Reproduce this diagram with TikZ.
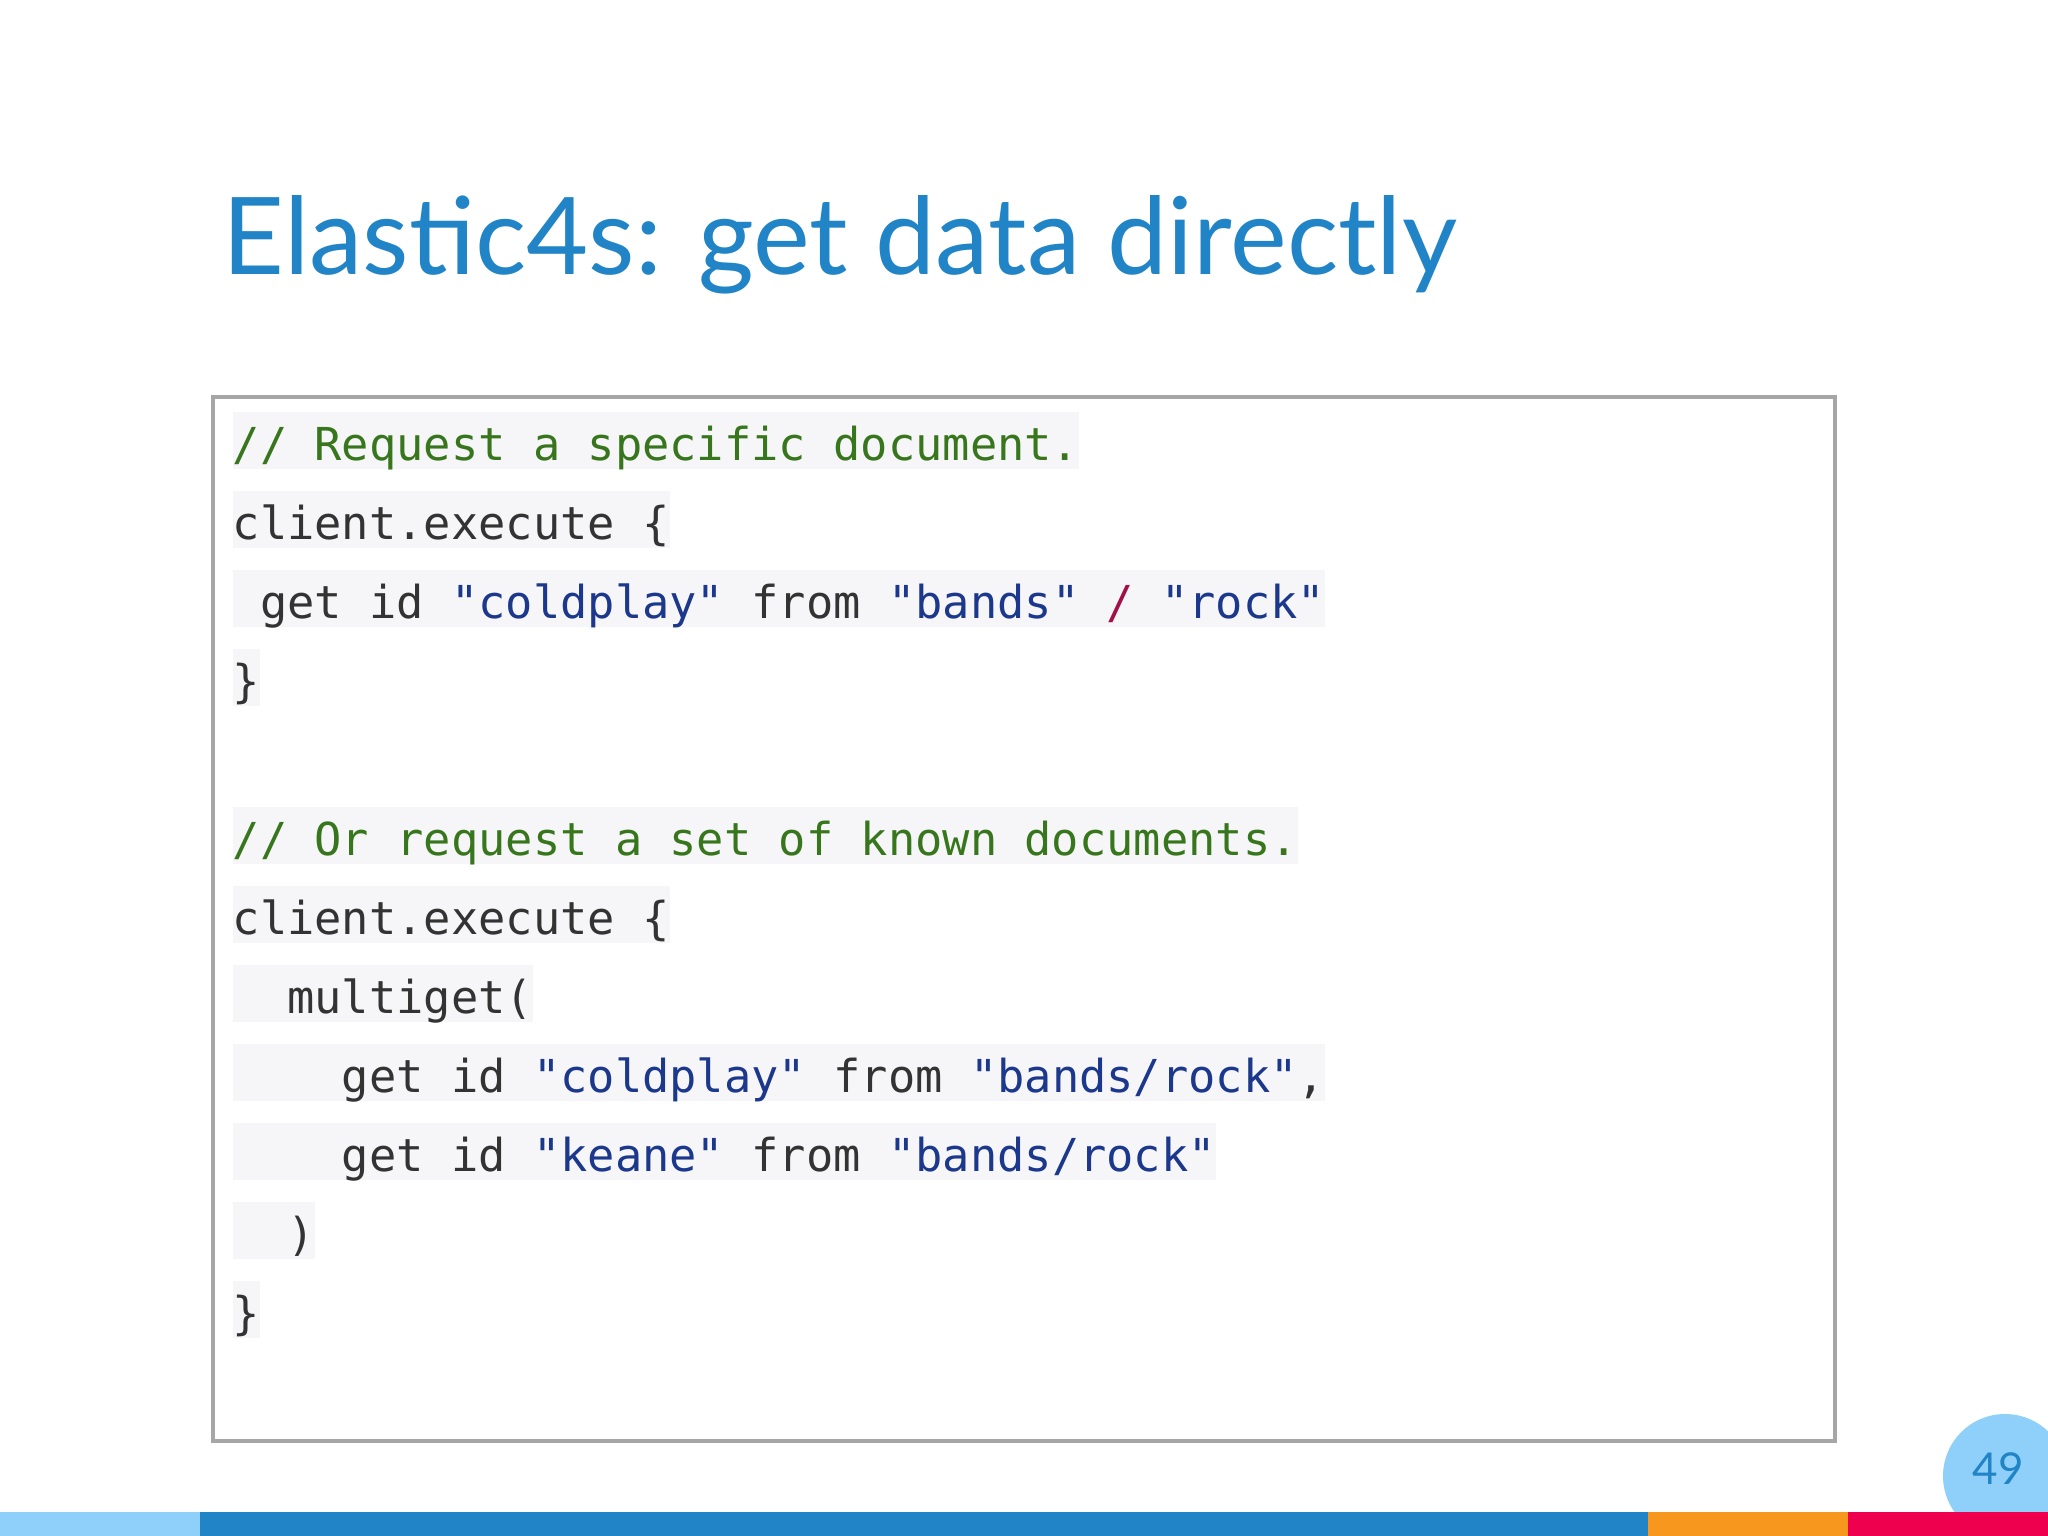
\documentclass[tikz,border=0pt]{standalone}
\usepackage{fontspec}
\setmainfont{Lato}
\setmonofont{DejaVu Sans Mono}
\usetikzlibrary{positioning}
\definecolor{titleblue}{RGB}{33, 132, 198}
\definecolor{lightblue}{RGB}{142, 208, 250}
\definecolor{barorange}{RGB}{247, 151, 29}
\definecolor{barred}{RGB}{238, 0, 78}
\definecolor{codebg}{RGB}{246, 246, 248}
\definecolor{codetext}{RGB}{51, 51, 51}
\definecolor{comment}{RGB}{56, 118, 29}
\definecolor{string}{RGB}{28, 56, 140}
\definecolor{operator}{RGB}{160, 17, 74}
\newcommand{\cstr}[1]{{\color{string}#1}}
\newcommand{\ind}[1]{\hphantom{#1}}

\begin{document}
\begin{tikzpicture}[
    x=0.01cm, y=-0.01cm,
    % 代码行样式
    codeline/.style={
        anchor=base west, fill=codebg, inner xsep=0pt, inner ysep=0pt,
        text height=13.6pt, text depth=2.6pt,
        font=\fontsize{12.9}{14}\ttfamily, text=codetext
    },
    commentline/.style={codeline, text=comment},
]
\useasboundingbox (0,0) rectangle (2048,1536);
\fill[white] (0,0) rectangle (2048,1536);

% ==================== 标题 ====================
\node[anchor=base west, inner sep=0pt, text=titleblue, font=\fontsize{30.5}{36}\selectfont] (title) at (222,274) {Elastic4s: get data directly};

% ==================== 代码框 ====================
\draw[gray!70, line width=1.2pt] (213,397) rectangle (1835,1441);

\node[commentline] (c1) at (232,460) {// Request a specific document.};
\node[codeline] (l2) at (232,539) {client.execute \{};
\node[codeline] (l3) at (232,618) {\ind{x}get id \cstr{"coldplay"} from \cstr{"bands"} {\color{operator}/} \cstr{"rock"}};
\node[codeline] (l4) at (232,697) {\}};
\node[commentline] (c2) at (232,855) {// Or request a set of known documents.};
\node[codeline] (l7) at (232,934) {client.execute \{};
\node[codeline] (l8) at (232,1013) {\ind{xx}multiget(};
\node[codeline] (l9) at (232,1092) {\ind{xxxx}get id \cstr{"coldplay"} from \cstr{"bands/rock"},};
\node[codeline] (l10) at (232,1171) {\ind{xxxx}get id \cstr{"keane"} from \cstr{"bands/rock"}};
\node[codeline] (l11) at (232,1250) {\ind{xx})};
\node[codeline] (l12) at (232,1329) {\}};

% ==================== 页码与底栏 ====================
\fill[lightblue] (2005,1476) circle (62);
\node[text=titleblue, font=\fontsize{12.5}{14}\selectfont] (page) at (1998,1469) {49};

\fill[lightblue] (0,1512) rectangle (200,1536);
\fill[titleblue] (200,1512) rectangle (1648,1536);
\fill[barorange] (1648,1512) rectangle (1848,1536);
\fill[barred] (1848,1512) rectangle (2048,1536);
\end{tikzpicture}
\end{document}
